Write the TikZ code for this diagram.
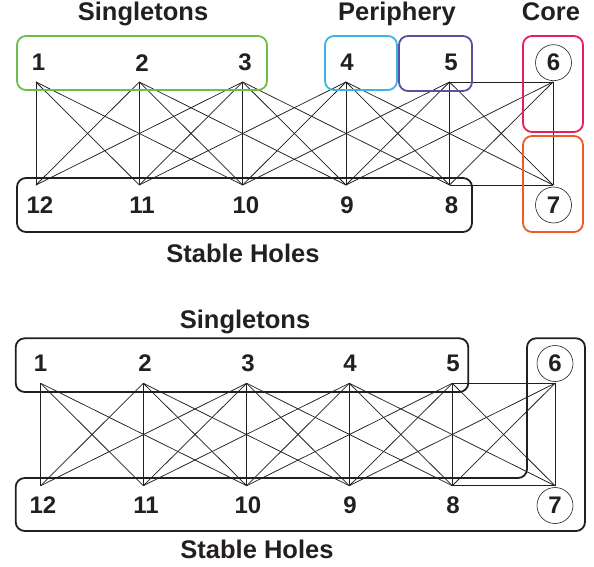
\documentclass[tikz,border=0pt]{standalone}
\usepackage{fontspec}
\setmainfont{Liberation Sans}
\definecolor{cgreen}{RGB}{110,190,70}
\definecolor{cblue}{RGB}{60,180,230}
\definecolor{cpurple}{RGB}{90,80,160}
\definecolor{cred}{RGB}{230,30,90}
\definecolor{corange}{RGB}{240,90,40}
\definecolor{cline}{RGB}{35,31,32}
\begin{document}
\begin{tikzpicture}[x=1pt,y=-1pt,
  edge/.style={draw=cline,line width=0.75pt},
  grp/.style={line width=1.8pt, rounded corners=9pt},
  num/.style={font=\fontsize{24}{24}\selectfont\bfseries, text=cline, inner sep=0pt},
  ttl/.style={font=\fontsize{25.5}{25.5}\selectfont\bfseries, text=cline, anchor=base, inner sep=0pt},
  ring/.style={draw=cline, circle, line width=0.6pt, minimum size=36pt, inner sep=0pt}
]
\useasboundingbox (0,0) rectangle (594,567);

% ---------------- top panel ----------------
\foreach \i/\x in {1/36,2/139.3,3/242.7,4/346,5/449.5,6/553}{
  \coordinate (A\i) at (\x,82);
  \coordinate (B\i) at (\x,185);
}
\foreach \i in {1,...,6}{
  \foreach \j in {1,...,6}{
    \pgfmathtruncatemacro\d{abs(\i-\j)}
    \ifnum\d<3 \draw[edge] (A\i) -- (B\j); \fi
  }
}
\draw[edge] (A5) -- (A6);
\draw[edge] (B5) -- (B6);

\draw[grp,draw=cgreen] (17,36) rectangle (267,90);
\draw[grp,draw=cblue] (325,36) rectangle (397,90);
\draw[grp,draw=cpurple] (399,36) rectangle (472,91);
\draw[grp,draw=cred] (523,36) rectangle (583,132);
\draw[grp,draw=corange] (523,136) rectangle (583,232);
\draw[grp,draw=cline] (17,178) rectangle (472,232);

\node[num] (ta1) at (38.5,62.7) {1};
\node[num] (ta2) at (142,62.7) {2};
\node[num] (ta3) at (245,62.7) {3};
\node[num] (ta4) at (347,62.7) {4};
\node[num] (ta5) at (451,62.7) {5};
\node[num,ring] (ta6) at (553.5,62.7) {6};
\node[num] (tb12) at (40,205) {12};
\node[num] (tb11) at (142,205) {11};
\node[num] (tb10) at (246,205) {10};
\node[num] (tb9) at (347,205) {9};
\node[num] (tb8) at (451.5,205) {8};
\node[num,ring] (tb7) at (553.5,205) {7};

\node[ttl] (tsing) at (143,20.7) {Singletons};
\node[ttl] (tper) at (397,20.7) {Periphery};
\node[ttl] (tcore) at (551,20.7) {Core};
\node[ttl] (tstab) at (243,262) {Stable Holes};

% ---------------- bottom panel ----------------
\foreach \i/\x in {1/40.7,2/143.3,3/246.7,4/349.3,5/452.3,6/555}{
  \coordinate (C\i) at (\x,383.3);
  \coordinate (D\i) at (\x,485.7);
}
\foreach \i in {1,...,6}{
  \foreach \j in {1,...,6}{
    \pgfmathtruncatemacro\d{abs(\i-\j)}
    \ifnum\d<3 \draw[edge] (C\i) -- (D\j); \fi
  }
}
\draw[edge] (C5) -- (C6);
\draw[edge] (D5) -- (D6);

\draw[grp,draw=cline] (15.7,338.3) rectangle (468.3,392);
\draw[grp,draw=cline] (15.7,478) -- (527,478) -- (527,338.3) -- (585,338.3) -- (585,531) -- (15.7,531) -- cycle;

\node[num] (ba1) at (40.5,363.5) {1};
\node[num] (ba2) at (145,363.5) {2};
\node[num] (ba3) at (248,363.5) {3};
\node[num] (ba4) at (350,363.5) {4};
\node[num] (ba5) at (453,363.5) {5};
\node[num,ring] (ba6) at (555,363.5) {6};
\node[num] (bb12) at (43,505.5) {12};
\node[num] (bb11) at (146,505.5) {11};
\node[num] (bb10) at (248,505.5) {10};
\node[num] (bb9) at (350,505.5) {9};
\node[num] (bb8) at (453,505.5) {8};
\node[num,ring] (bb7) at (555,505.5) {7};

\node[ttl] (bsing) at (245,328) {Singletons};
\node[ttl] (bstab) at (257,558) {Stable Holes};
\end{tikzpicture}
\end{document}
